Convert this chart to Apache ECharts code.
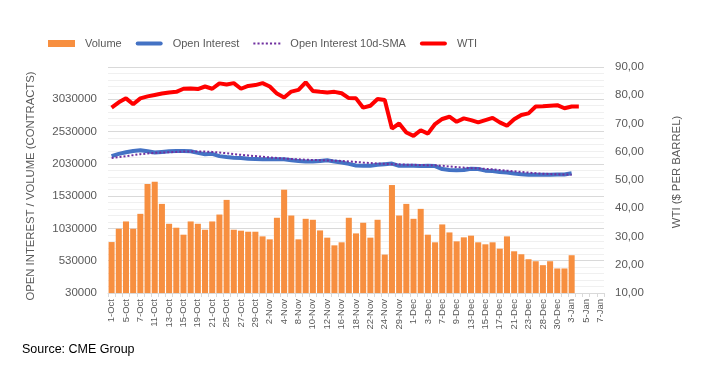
<!DOCTYPE html>
<html>
<head>
<meta charset="utf-8">
<script src="https://cdn.jsdelivr.net/npm/echarts@6/dist/echarts.min.js"></script>
<style>
html,body{margin:0;padding:0;background:#fff;}
#c{width:704px;height:372px;}
</style>
</head>
<body>
<div id="c"></div>
<script>
const categories = ['1-Oct','4-Oct','5-Oct','6-Oct','7-Oct','8-Oct','11-Oct','12-Oct','13-Oct','14-Oct','15-Oct','18-Oct','19-Oct','20-Oct','21-Oct','22-Oct','25-Oct','26-Oct','27-Oct','28-Oct','29-Oct','1-Nov','2-Nov','3-Nov','4-Nov','5-Nov','8-Nov','9-Nov','10-Nov','11-Nov','12-Nov','15-Nov','16-Nov','17-Nov','18-Nov','19-Nov','22-Nov','23-Nov','24-Nov','26-Nov','29-Nov','30-Nov','1-Dec','2-Dec','3-Dec','6-Dec','7-Dec','8-Dec','9-Dec','10-Dec','13-Dec','14-Dec','15-Dec','16-Dec','17-Dec','20-Dec','21-Dec','22-Dec','23-Dec','27-Dec','28-Dec','29-Dec','30-Dec','31-Dec','3-Jan','4-Jan','5-Jan','6-Jan','7-Jan'];

const volume = [819000,1025000,1138000,1025000,1256000,1718000,1753000,1410000,1102000,1041000,933000,1138000,1102000,1010000,1138000,1245000,1472000,1010000,995000,979000,979000,907000,861000,1195000,1630000,1230000,861000,1179000,1164000,999000,887000,768000,815000,1195000,953000,1118000,887000,1164000,625000,1702000,1230000,1410000,1179000,1333000,933000,815000,1092000,968000,830000,892000,918000,815000,784000,815000,717000,907000,676000,630000,553000,522000,461000,522000,410000,410000,615000];

const openInterest = [2150000,2185000,2210000,2230000,2240000,2225000,2205000,2215000,2225000,2230000,2230000,2225000,2200000,2180000,2185000,2150000,2135000,2125000,2120000,2110000,2105000,2100000,2100000,2100000,2100000,2085000,2075000,2065000,2065000,2075000,2085000,2065000,2050000,2030000,2005000,2000000,2000000,2015000,2025000,2035000,2000000,2000000,2000000,1995000,2000000,1995000,1950000,1935000,1932000,1935000,1955000,1950000,1925000,1920000,1905000,1895000,1880000,1870000,1862000,1860000,1862000,1862000,1865000,1865000,1885000];

const oiSMA = [2120000,2135000,2150000,2165000,2180000,2190000,2200000,2205000,2210000,2215000,2220000,2222000,2222000,2220000,2215000,2205000,2195000,2180000,2170000,2160000,2150000,2140000,2130000,2120000,2112000,2105000,2100000,2095000,2090000,2087000,2083000,2080000,2075000,2068000,2060000,2050000,2042000,2035000,2030000,2025000,2022000,2018000,2015000,2012000,2010000,2008000,2000000,1990000,1980000,1972000,1965000,1960000,1952000,1945000,1935000,1925000,1915000,1905000,1895000,1885000,1878000,1872000,1868000,1865000,1862000];

const wti = [75.6,77.5,78.9,76.8,78.9,79.6,80.1,80.6,81.0,81.2,82.3,82.4,82.2,83.1,82.3,84.2,83.8,84.3,82.3,83.3,83.6,84.3,83.1,80.6,79.2,81.3,81.9,84.6,81.5,81.2,81.0,81.2,80.7,79.0,78.9,75.6,76.3,78.7,78.3,68.2,70.0,66.8,65.6,67.6,66.4,69.8,71.6,72.4,70.6,71.8,71.2,70.4,71.2,72.0,70.4,69.2,71.5,73.0,73.6,76.0,76.1,76.3,76.5,75.4,76.0,76.0];

const FONT = 'Liberation Sans';
const GREY = '#595959';
const LINE_ICON = 'path://M2,0h23a2,2 0 0 1 0,4h-23a2,2 0 0 1 0,-4z';
const DOT_ICON = 'path://M0,0h2v2h-2zM4,0h2v2h-2zM8,0h2v2h-2zM12,0h2v2h-2zM16,0h2v2h-2zM20,0h2v2h-2zM24,0h2v2h-2z';

const chart = echarts.init(document.getElementById('c'), null, {renderer:'canvas'});
chart.setOption({
  animation: false,
  backgroundColor: '#fff',
  textStyle: {fontFamily: FONT},
  legend: {
    left: 43, top: 33,
    itemWidth: 27, itemHeight: 7, itemGap: 14,
    textStyle: {color: GREY, fontSize: 11, fontFamily: FONT, padding: [0,0,0,5]},
    data: [
      {name: 'Volume', icon: 'rect'},
      {name: 'Open Interest', icon: LINE_ICON},
      {name: 'Open Interest 10d-SMA', icon: DOT_ICON},
      {name: 'WTI', icon: LINE_ICON}
    ]
  },
  grid: {left: 108, right: 100, top: 67, bottom: 79},
  xAxis: {
    type: 'category',
    data: categories,
    boundaryGap: true,
    axisLine: {lineStyle: {color: '#d9d9d9'}},
    axisTick: {show: true, interval: 0, length: 4, lineStyle: {color: '#d9d9d9'}},
    axisLabel: {interval: 1, rotate: 90, color: GREY, fontSize: 9.5, fontFamily: FONT, margin: 6}
  },
  yAxis: [
    {
      type: 'value',
      min: 30000, max: 3530000, interval: 500000,
      name: 'OPEN INTEREST / VOLUME (CONTRACTS)',
      nameLocation: 'middle', nameGap: 72,
      nameTextStyle: {color: GREY, fontSize: 11.3, fontFamily: FONT, padding: [0,12,0,0]},
      axisLine: {show: false},
      axisTick: {show: false},
      axisLabel: {color: GREY, fontSize: 11.5, fontFamily: FONT, margin: 11, showMaxLabel: false,
        formatter: v => String(v)},
      splitLine: {lineStyle: {color: '#d9d9d9'}},
      minorTick: {show: false, splitNumber: 5},
      minorSplitLine: {show: true, lineStyle: {color: '#f0f0f0'}}
    },
    {
      type: 'value',
      min: 10, max: 90, interval: 10,
      position: 'right',
      name: 'WTI ($ PER BARREL)',
      nameLocation: 'middle', nameGap: 67,
      nameTextStyle: {color: GREY, fontSize: 11.3, fontFamily: FONT, padding: [0,0,0,16]},
      axisLine: {show: false},
      axisTick: {show: false},
      axisLabel: {color: GREY, fontSize: 11.5, fontFamily: FONT, margin: 11,
        formatter: v => v.toFixed(2).replace('.', ',')},
      splitLine: {show: false}
    }
  ],
  series: [
    {
      name: 'Volume', type: 'bar', yAxisIndex: 0,
      data: volume,
      barCategoryGap: '16%',
      itemStyle: {color: '#F78F40'},
      z: 1
    },
    {
      name: 'Open Interest', type: 'line', yAxisIndex: 0,
      data: openInterest,
      symbol: 'none',
      lineStyle: {color: '#4472C4', width: 4},
      itemStyle: {color: '#4472C4'},
      z: 2
    },
    {
      name: 'Open Interest 10d-SMA', type: 'line', yAxisIndex: 0,
      data: oiSMA,
      symbol: 'none',
      lineStyle: {color: '#7030A0', width: 2, type: [2, 2]},
      itemStyle: {color: '#7030A0'},
      z: 3
    },
    {
      name: 'WTI', type: 'line', yAxisIndex: 1,
      data: wti,
      symbol: 'none',
      lineStyle: {color: '#FF0000', width: 4},
      itemStyle: {color: '#FF0000'},
      z: 4
    }
  ],
  graphic: [{
    type: 'text', left: 22, top: 343,
    style: {text: 'Source: CME Group', fill: '#000', font: '12.5px "Liberation Sans"',
      shadowColor: 'rgba(0,0,0,0.35)', shadowBlur: 2, shadowOffsetX: 1, shadowOffsetY: 1}
  }]
});
</script>
</body>
</html>
